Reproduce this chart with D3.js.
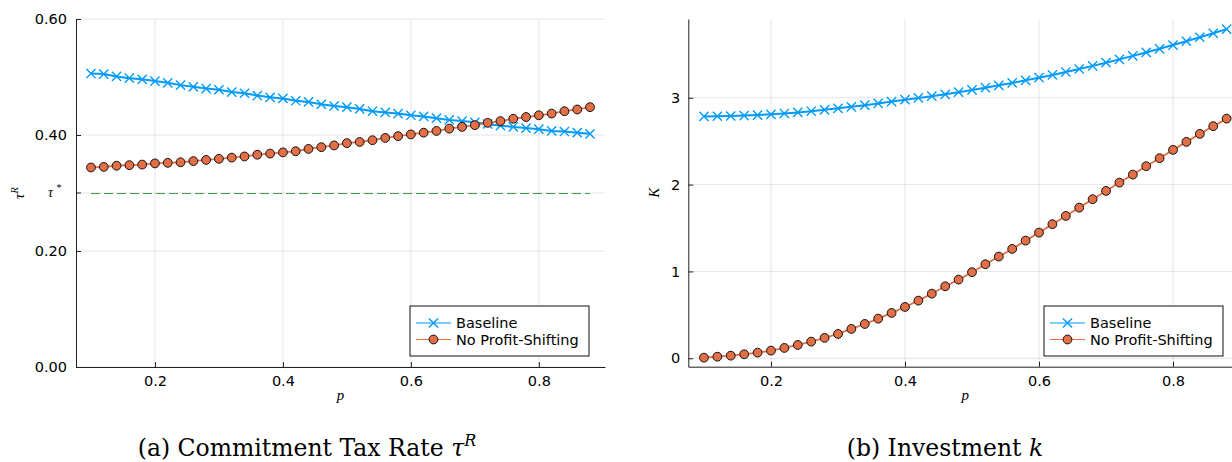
<!DOCTYPE html>
<html>
<head>
<meta charset="utf-8"/>
<script src="https://cdn.jsdelivr.net/npm/d3@7"></script>
<style>
  body { margin: 0; background: #fff; }
  .axis path, .axis line { stroke: #222; }
  .axis text { font-family: "DejaVu Sans", sans-serif; font-size: 14.5px; fill: #000; }
  .grid line { stroke: #000; stroke-opacity: 0.1; stroke-width: 1; }
  .math { font-family: "Liberation Serif", serif; font-style: italic; }
  .caption { font-family: "DejaVu Serif", serif; font-size: 23.5px; }
  .legend text { font-family: "DejaVu Sans", sans-serif; font-size: 14.5px; }
</style>
</head>
<body>
<svg id="fig" width="1232" height="462"></svg>
<script>
// p grid
var pValues = [0.10, 0.12, 0.14, 0.16, 0.18, 0.20, 0.22, 0.24, 0.26, 0.28,
               0.30, 0.32, 0.34, 0.36, 0.38, 0.40, 0.42, 0.44, 0.46, 0.48,
               0.50, 0.52, 0.54, 0.56, 0.58, 0.60, 0.62, 0.64, 0.66, 0.68,
               0.70, 0.72, 0.74, 0.76, 0.78, 0.80, 0.82, 0.84, 0.86, 0.88];

// (a) commitment tax rate
var tauBaseline = [0.506, 0.505, 0.501, 0.498, 0.496, 0.493, 0.490, 0.486, 0.483, 0.480,
                   0.478, 0.474, 0.472, 0.468, 0.465, 0.463, 0.459, 0.457, 0.453, 0.450,
                   0.448, 0.445, 0.441, 0.439, 0.437, 0.434, 0.432, 0.429, 0.426, 0.424,
                   0.422, 0.419, 0.416, 0.414, 0.412, 0.410, 0.407, 0.406, 0.404, 0.402];
var tauNoPS = [0.344, 0.345, 0.347, 0.348, 0.349, 0.351, 0.352, 0.353, 0.355, 0.357,
               0.359, 0.361, 0.363, 0.366, 0.368, 0.370, 0.372, 0.376, 0.379, 0.382,
               0.386, 0.388, 0.391, 0.395, 0.398, 0.401, 0.404, 0.407, 0.411, 0.414,
               0.417, 0.421, 0.424, 0.428, 0.431, 0.434, 0.437, 0.441, 0.444, 0.448];
var tauStar = 0.30;

// (b) investment
var kBaseline = [2.785, 2.787, 2.790, 2.795, 2.801, 2.809, 2.819, 2.831, 2.845, 2.861,
                 2.878, 2.896, 2.915, 2.935, 2.956, 2.978, 2.998, 3.018, 3.040, 3.064,
                 3.090, 3.116, 3.143, 3.171, 3.201, 3.231, 3.263, 3.297, 3.331, 3.367,
                 3.404, 3.442, 3.482, 3.522, 3.564, 3.607, 3.651, 3.697, 3.743, 3.790];
var kNoPS = [0.007, 0.018, 0.030, 0.046, 0.065, 0.088, 0.119, 0.153, 0.192, 0.235,
             0.280, 0.338, 0.395, 0.456, 0.522, 0.591, 0.664, 0.744, 0.829, 0.906,
             0.991, 1.083, 1.171, 1.259, 1.355, 1.447, 1.544, 1.639, 1.735, 1.832,
             1.927, 2.023, 2.115, 2.212, 2.304, 2.400, 2.492, 2.584, 2.673, 2.760];

var xTicks = [0.2, 0.4, 0.6, 0.8];
var tauTicks = [0.0, 0.2, 0.4, 0.6];
var kTicks = [0, 1, 2, 3];
var seriesNames = ["Baseline", "No Profit-Shifting"];

var blue = "#009AFA", orange = "#E36F47", green = "#3E9A4A";
var xDomain = [0.0766, 0.9034];

var svg = d3.select("#fig");
svg.append("rect").attr("width", 1232).attr("height", 462).attr("fill", "#fff");

function panel(opt) {
  var x = d3.scaleLinear().domain(xDomain).range([opt.left, opt.right]);
  var y = d3.scaleLinear().domain(opt.yDomain).range([opt.bottom, opt.top]);
  var g = svg.append("g");

  // grid
  var grid = g.append("g").attr("class", "grid");
  grid.selectAll(".gx").data(xTicks).enter().append("line")
      .attr("x1", d => x(d)).attr("x2", d => x(d))
      .attr("y1", opt.top).attr("y2", opt.bottom);
  grid.selectAll(".gy").data(opt.gridY).enter().append("line")
      .attr("x1", opt.left).attr("x2", opt.right)
      .attr("y1", d => y(d)).attr("y2", d => y(d));

  // tau* reference series (dashed)
  if (opt.hline != null) {
    g.append("path")
      .datum(pValues)
      .attr("fill", "none").attr("stroke", green).attr("stroke-width", 1)
      .attr("stroke-dasharray", "9,4").attr("shape-rendering", "crispEdges")
      .attr("d", d3.line().x(d => x(d)).y(() => y(opt.hline)));
  }

  var line = d3.line().x((d, i) => x(pValues[i])).y(d => y(d));
  g.append("path").datum(opt.base)
    .attr("fill", "none").attr("stroke", blue).attr("stroke-width", 2).attr("d", line);
  g.append("path").datum(opt.nops)
    .attr("fill", "none").attr("stroke", orange).attr("stroke-width", 1.8).attr("d", line);

  g.selectAll(".xm").data(opt.base).enter().append("path")
    .attr("transform", (d, i) => "translate(" + x(pValues[i]) + "," + y(d) + ")")
    .attr("d", "M-4.6,-4.6L4.6,4.6M-4.6,4.6L4.6,-4.6")
    .attr("stroke", blue).attr("stroke-width", 1.4);
  g.selectAll(".cm").data(opt.nops).enter().append("circle")
    .attr("cx", (d, i) => x(pValues[i])).attr("cy", d => y(d)).attr("r", 4.4)
    .attr("fill", orange).attr("stroke", "#111").attr("stroke-width", 1);

  // axes
  g.append("g").attr("class", "axis")
    .attr("transform", "translate(0," + opt.bottom + ")")
    .call(d3.axisBottom(x).tickValues(xTicks).tickSizeInner(-5).tickSizeOuter(0)
      .tickPadding(9).tickFormat(d3.format(".1f")));
  var ya = g.append("g").attr("class", "axis")
    .attr("transform", "translate(" + opt.left + ",0)")
    .call(d3.axisLeft(y).tickValues(opt.yTicks).tickSizeInner(-5).tickSizeOuter(0)
      .tickPadding(opt.yPad).tickFormat(opt.yFormat));
  if (opt.hline != null) {
    ya.append("line").attr("x1", 0).attr("x2", 5)
      .attr("y1", y(opt.hline)).attr("y2", y(opt.hline)).attr("stroke", "#222");
    var t = ya.append("text").attr("class", "math")
      .attr("x", -15).attr("y", y(opt.hline) + 4)
      .attr("text-anchor", "end").style("font-family", "Liberation Serif, serif")
      .style("font-style", "italic").style("font-size", "14px");
    t.append("tspan").text("τ");
    t.append("tspan").attr("dy", -6).attr("dx", 3).style("font-size", "10px").text("*");
  }

  // axis labels
  g.append("text").attr("class", "math")
    .attr("x", (opt.left + opt.right) / 2).attr("y", opt.bottom + 33)
    .attr("text-anchor", "middle").style("font-size", "15px").text("p");
  var yl = g.append("text").attr("class", "math")
    .attr("transform", "translate(" + opt.yLabelX + "," + (opt.top + opt.bottom) / 2 + ") rotate(-90)")
    .attr("text-anchor", "middle").style("font-size", "15px");
  yl.append("tspan").text(opt.yLabel);
  if (opt.yLabelSup) {
    yl.append("tspan").attr("dy", -6).style("font-size", "10.5px").text(opt.yLabelSup);
  }

  // legend
  var lg = g.append("g").attr("class", "legend")
    .attr("transform", "translate(" + opt.legendX + ",306)");
  lg.append("rect").attr("width", 179).attr("height", 50)
    .attr("fill", "#fff").attr("stroke", "#111").attr("stroke-width", 1);
  seriesNames.forEach(function(name, i) {
    var yy = 17 + i * 16.5;
    lg.append("line").attr("x1", 6).attr("x2", 41).attr("y1", yy).attr("y2", yy)
      .attr("stroke", i === 0 ? blue : orange).attr("stroke-width", 1.1);
    if (i === 0) {
      lg.append("path").attr("transform", "translate(23.5," + yy + ")")
        .attr("d", "M-4.6,-4.6L4.6,4.6M-4.6,4.6L4.6,-4.6")
        .attr("stroke", blue).attr("stroke-width", 1.4);
    } else {
      lg.append("circle").attr("cx", 23.5).attr("cy", yy).attr("r", 4.4)
        .attr("fill", orange).attr("stroke", "#111");
    }
    lg.append("text").attr("x", 46).attr("y", yy + 5).text(name);
  });
}

panel({
  left: 76, right: 605, top: 19, bottom: 367,
  yDomain: [0, 0.6], yTicks: tauTicks, gridY: [0, 0.2, 0.3, 0.4, 0.6],
  yFormat: d3.format(".2f"), yPad: 9,
  base: tauBaseline, nops: tauNoPS, hline: tauStar,
  yLabel: "τ", yLabelSup: "R", yLabelX: 24, legendX: 410
});

panel({
  left: 688.3, right: 1242.3, top: 19, bottom: 366.7,
  yDomain: [-0.097, 3.907], yTicks: kTicks, gridY: kTicks,
  yFormat: d3.format("d"), yPad: 8,
  base: kBaseline, nops: kNoPS, hline: null,
  yLabel: "K", yLabelSup: null, yLabelX: 659, legendX: 1044
});

// captions
var c1 = svg.append("text").attr("class", "caption").attr("x", 307).attr("y", 456)
  .attr("text-anchor", "middle");
c1.append("tspan").text("(a) Commitment Tax Rate ");
c1.append("tspan").style("font-style", "italic").text("τ");
c1.append("tspan").attr("dy", -10).style("font-style", "italic").style("font-size", "16px").text("R");

svg.append("text").attr("class", "caption").attr("x", 945).attr("y", 456)
  .attr("text-anchor", "middle")
  .call(t => { t.append("tspan").text("(b) Investment ");
               t.append("tspan").style("font-style", "italic").text("k"); });
</script>
</body>
</html>
